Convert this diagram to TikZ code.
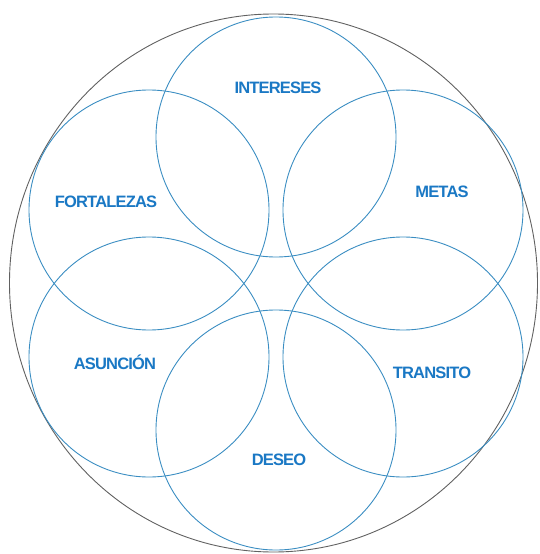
\documentclass[tikz,border=0pt]{standalone}
\usepackage{fontspec}
\setmainfont{Liberation Sans}
\newfontfamily\petalfont[LetterSpace=-5]{Liberation Sans}
\usepackage{xcolor}
\definecolor{petalblue}{HTML}{3A8DC2}
\definecolor{labelblue}{HTML}{1A78C4}
\tikzset{
	petal/.style={draw=petalblue, line width=0.9pt},
	petallabel/.style={text=labelblue, inner sep=0pt,
			font=\petalfont\bfseries\fontsize{16.5}{16.5}\selectfont}
}

\begin{document}
\begin{tikzpicture}[x=1pt,y=-1pt]
		\useasboundingbox (0,0) rectangle (539,554);
		% outer ring
		\draw [color=black!62, line width=0.9pt] (273.5,283) ellipse [x radius=264pt, y radius=269pt];
		% six petals
		\foreach \cx/\cy in {276/137, 403/210, 403/357, 276/430, 149/357, 149/210}
			\draw [petal] (\cx,\cy) circle [radius=120pt];
		% labels
		\node [petallabel] (intereses) at (278,88) {INTERESES};
		\node [petallabel] (metas) at (442,192) {METAS};
		\node [petallabel] (transito) at (432,373) {TRANSITO};
		\node [petallabel] (deseo) at (279,460) {DESEO};
		\node [petallabel] (asuncion) at (115,362) {ASUNCIÓN};
		\node [petallabel] (fortalezas) at (106,202) {FORTALEZAS};
	\end{tikzpicture}
\end{document}
